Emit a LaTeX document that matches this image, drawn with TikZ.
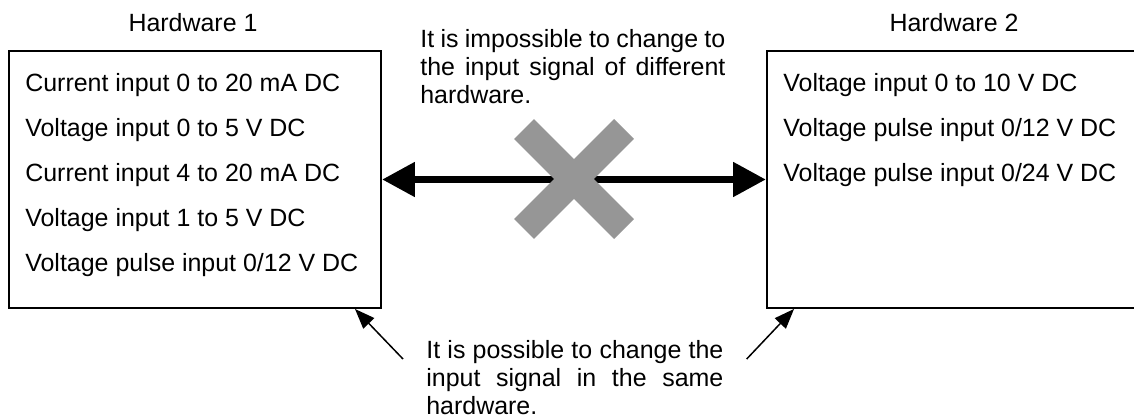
\documentclass[tikz,border=0pt]{standalone}
\usepackage{fontspec}
\setmainfont{Liberation Sans}
\usepackage{xcolor}
\usetikzlibrary{arrows.meta, positioning, calc}
\definecolor{crossgray}{RGB}{150,150,150}
\tikzset{
  hwbox/.style={draw, line width=1.1pt, minimum width=7.44cm, minimum height=5.14cm, inner sep=0},
  sig/.style={anchor=base west, inner sep=0, font=\fontsize{14.2}{16}\selectfont},
  hwlabel/.style={anchor=base, inner sep=0, font=\fontsize{14.2}{16}\selectfont},
  note/.style={anchor=base west, inner sep=0, align=justify, font=\fontsize{14.2}{15.9}\selectfont},
}
\begin{document}
\begin{tikzpicture}[scale=1.0]
  \useasboundingbox (0,0) rectangle (22.68,8.28);
  % Boxes
  \node[hwbox] (hw1) at (3.90,4.69) {};
  \node[hwbox] (hw2) at (19.06,4.69) {};
  \node[hwlabel] (lab1) at (3.86,7.64) {Hardware 1};
  \node[hwlabel] (lab2) at (19.08,7.64) {Hardware 2};
  % Input signals
  \foreach \txt [count=\i] in {Current input 0 to 20 mA DC, Voltage input 0 to 5 V DC, Current input 4 to 20 mA DC, Voltage input 1 to 5 V DC, Voltage pulse input 0/12 V DC}
    \node[sig] (hwa\i) at (0.5,{6.44-0.896*(\i-1)}) {\txt};
  \foreach \txt [count=\i] in {Voltage input 0 to 10 V DC, Voltage pulse input 0/12 V DC, Voltage pulse input 0/24 V DC}
    \node[sig] (hwb\i) at (15.66,{6.44-0.896*(\i-1)}) {\txt};
  % Between hardware: not possible
  \draw[{Triangle[length=0.66cm,width=0.66cm]}-{Triangle[length=0.66cm,width=0.66cm]}, line width=4.5pt] (hw1.east) -- (hw2.west);
  \draw[crossgray, line width=15.9pt] (10.48,5.70) -- (12.48,3.70);
  \draw[crossgray, line width=15.9pt] (12.48,5.70) -- (10.48,3.70);
  \node[note, text width=6.1cm] (nogo) at (8.4,7.32) {It is impossible to change to\linebreak the input signal of different\linebreak hardware.};
  % Same hardware: possible
  \node[note, text width=5.94cm] (go) at (8.52,1.10) {It is possible to change the\linebreak input signal in the same\linebreak hardware.};
  \coordinate (go1) at ($(go.base west)+(-0.46,0)$);
  \coordinate (go2) at ($(go.base east)+(0.46,0)$);
  \draw[-{Triangle[length=0.4cm,width=0.3cm]}, line width=0.85pt] (go1) -- ($(hw1.south east)+(-0.54,0)$);
  \draw[-{Triangle[length=0.4cm,width=0.3cm]}, line width=0.85pt] (go2) -- ($(hw2.south west)+(0.56,0)$);
\end{tikzpicture}
\end{document}
